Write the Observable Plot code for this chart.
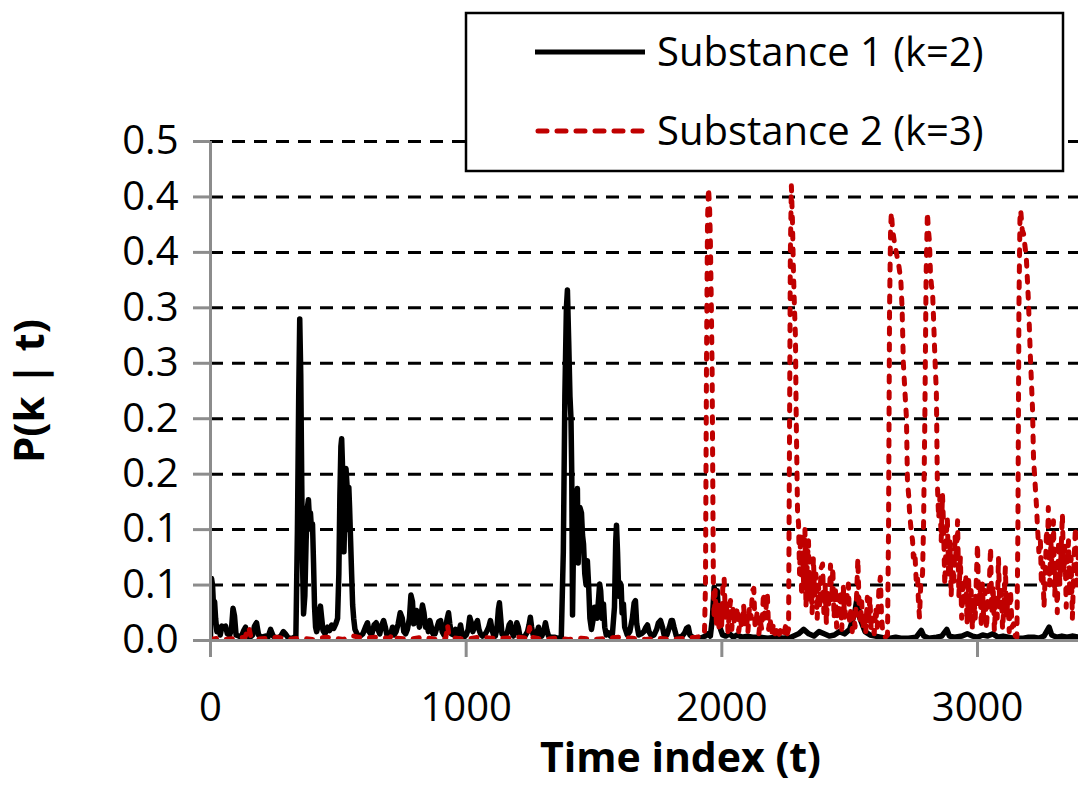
<!DOCTYPE html>
<html>
<head>
<meta charset="utf-8">
<script src="https://cdn.jsdelivr.net/npm/d3@7"></script>
<script src="https://cdn.jsdelivr.net/npm/@observablehq/plot@0.6"></script>
<style>
  html, body { margin: 0; padding: 0; background: #fff; }
  #chart { width: 1078px; height: 785px; }
</style>
</head>
<body>
<div id="chart"></div>
<script>
// ---------- data ----------
const seriesNames = ["Substance 1 (k=2)", "Substance 2 (k=3)"];
const xTicks = [0, 1000, 2000, 3000];
const xTickLabels = ["0", "1000", "2000", "3000"];
const yTicks = [0, 0.05, 0.1, 0.15, 0.2, 0.25, 0.3, 0.35, 0.4, 0.45];
const yTickLabels = ["0.0", "0.1", "0.1", "0.2", "0.2", "0.3", "0.3", "0.4", "0.4", "0.5"];
const xTitle = "Time index (t)";
const yTitle = "P(k | t)";

// Substance 1 (k=2): time index
const s1T = [0,4,8,12,16,20,25,31,38,45,52,59,66,75,82,88,94,100,110,120,130,137,144,155,165,172,180,188,200,215,225,235,245,260,275,285,293,305,322,334,
340,345,349,353,357,360,364,369,374,379,383,387,391,395,399,403,407,411,415,420,425,430,435,440,448,458,466,474,482,490,497,
502,506,510,513,516,519,522,526,530,534,538,541,544,548,552,556,560,
565,575,585,596,606,614,620,630,640,648,655,662,670,677,684,690,698,705,712,718,726,734,742,750,756,763,770,778,784,790,795,800,806,811,817,823,829,835,841,847,852,858,864,870,878,886,893,900,906,913,920,926,931,936,942,950,958,966,972,978,984,992,1000,1008,1014,1020,1026,1032,1038,1044,1050,1056,1064,1072,1080,1088,1095,1101,1107,1114,1120,1126,1130,1135,1140,1148,1156,1162,1168,1173,1178,1185,1192,1198,1204,1210,1220,1230,1240,1246,1251,1256,1262,1270,1278,1283,1288,1296,1303,1310,1316,1322,1332,1345,1360,1372,
1380,1386,1392,1396,1401,1406,1410,1413,1416,1420,1424,1428,1432,1435,1438,1441,1445,1451,1455,1459,1464,1469,1474,1479,1484,1490,1496,1502,1506,1512,1518,1522,1526,1532,1537,1542,1548,1556,1564,1572,1580,1585,1588,1592,1597,1602,1606,1610,1615,1620,1630,1640,1650,1657,1662,1667,1675,1685,1695,1703,1709,1715,1725,1735,1745,1752,1760,1768,1775,1785,1795,1802,1807,1813,1822,1832,1845,1855,1862,1869,1875,1885,1900,1915,1925,1935,
1945,1955,1963,1970,1976,1982,1988,1995,2003,2015,2030,2045,2060,2080,2100,2120,2150,2180,2210,2240,2270,2300,2320,2340,2360,2380,2400,2420,2440,2460,2480,2500,2520,2530,2540,2560,2580,2600,2620,2640,2660,2680,2700,2730,2760,2780,2790,2810,2840,2860,2880,2890,2910,2940,2960,2980,3000,3020,3040,3060,3080,3100,3120,3140,3160,3180,3200,3220,3240,3260,3280,3290,3310,3330,3350,3370,3395];
// Substance 1 (k=2): probability
const s1P = [0.004,0.056,0.05,0.03,0.035,0.02,0.008,0.012,0.005,0.013,0.012,0.013,0.006,0.005,0.01,0.029,0.022,0.005,0.004,0.003,0.009,0.012,0.004,0.003,0.005,0.013,0.016,0.005,0.003,0.004,0.003,0.01,0.004,0.002,0.004,0.008,0.006,0.002,0.002,0.004,
0.10,0.22,0.29,0.24,0.14,0.07,0.024,0.04,0.09,0.12,0.127,0.11,0.115,0.1,0.105,0.07,0.03,0.012,0.008,0.012,0.025,0.031,0.02,0.009,0.006,0.012,0.009,0.014,0.011,0.015,0.02,
0.06,0.13,0.175,0.182,0.16,0.10,0.08,0.12,0.155,0.14,0.1,0.138,0.12,0.09,0.06,0.032,0.02,
0.01,0.005,0.004,0.006,0.012,0.016,0.008,0.005,0.014,0.016,0.01,0.006,0.014,0.018,0.012,0.005,0.004,0.006,0.012,0.005,0.008,0.015,0.025,0.02,0.008,0.006,0.01,0.02,0.041,0.035,0.015,0.02,0.027,0.022,0.012,0.022,0.032,0.025,0.012,0.015,0.008,0.018,0.012,0.006,0.006,0.012,0.017,0.018,0.008,0.005,0.012,0.02,0.025,0.015,0.006,0.005,0.01,0.005,0.008,0.014,0.006,0.003,0.005,0.01,0.021,0.016,0.008,0.012,0.015,0.018,0.01,0.006,0.004,0.005,0.008,0.012,0.018,0.01,0.005,0.004,0.01,0.028,0.034,0.02,0.006,0.004,0.005,0.008,0.014,0.016,0.008,0.004,0.008,0.016,0.012,0.004,0.003,0.004,0.008,0.014,0.021,0.012,0.005,0.004,0.008,0.012,0.006,0.004,0.008,0.016,0.009,0.004,0.003,0.003,0.002,0.003,
0.08,0.22,0.30,0.316,0.27,0.22,0.2,0.15,0.023,0.09,0.124,0.11,0.13,0.137,0.07,0.1,0.12,0.115,0.095,0.087,0.06,0.05,0.072,0.05,0.02,0.01,0.018,0.03,0.03,0.02,0.038,0.051,0.045,0.02,0.033,0.012,0.005,0.007,0.004,0.006,0.03,0.09,0.104,0.08,0.04,0.052,0.05,0.025,0.033,0.012,0.005,0.008,0.02,0.034,0.036,0.015,0.005,0.006,0.008,0.012,0.014,0.008,0.004,0.005,0.01,0.016,0.018,0.012,0.004,0.005,0.012,0.018,0.018,0.012,0.004,0.003,0.004,0.007,0.011,0.012,0.005,0.003,0.002,0.002,0.003,0.004,
0.006,0.004,0.02,0.048,0.035,0.045,0.02,0.01,0.005,0.004,0.006,0.003,0.005,0.003,0.004,0.003,0.003,0.002,0.003,0.002,0.003,0.006,0.01,0.006,0.004,0.008,0.006,0.004,0.005,0.008,0.006,0.01,0.025,0.04,0.02,0.008,0.005,0.004,0.003,0.002,0.002,0.003,0.002,0.002,0.003,0.009,0.004,0.002,0.003,0.004,0.01,0.004,0.003,0.004,0.006,0.004,0.003,0.005,0.004,0.006,0.003,0.004,0.003,0.002,0.002,0.002,0.003,0.003,0.002,0.004,0.012,0.005,0.003,0.004,0.003,0.004,0.003];

// Substance 2 (k=3): time index
const s2T = [0,30,60,100,135,150,157,175,220,260,300,350,400,450,520,560,600,650,700,714,730,780,830,880,920,927,933,960,1000,1050,1100,1150,1200,1240,1248,1254,1300,1350,1400,1450,1500,1550,1600,1650,1700,1750,1800,1850,1900,1925,
1932,1936,1940,1944,1948,1952,1955,1959,1962,1965,1967,1970,
1974,1979,1984,1989,1994,1999,2004,2009,2014,2019,2024,2029,2034,2039,2044,2049,2055,2061,2066,2072,2078,2085,2090,2096,2102,2108,2114,2120,2125,2130,2135,2139,2145,2150,2156,2163,2168,2173,2178,2183,2189,2195,2202,2208,2215,2222,2229,2236,2243,2250,2256,
2261,2264,2268,2272,2276,2280,2284,2288,2290,2292,2296,
2300,2304,2308,2312,2316,2320,2325,2329,2334,2339,2343,2348,2353,2358,2363,2368,2373,2378,2383,2388,2394,2399,2404,2409,2414,2419,2425,2430,2434,2439,2444,2449,2454,2459,2464,2469,2475,2480,2486,2491,2495,2500,2505,2510,2516,2521,2527,2532,2537,2542,2547,2552,2558,2563,2569,2574,2579,2584,2590,2596,2602,2608,2614,2620,2625,2630,2640,
2648,2652,2656,2660,2663,2668,2675,2683,2691,2700,2705,2710,2716,2722,2726,2731,2734,2740,2746,2749,2755,2760,2765,2769,2773,2778,2785,2789,
2794,2799,2804,2808,2812,2816,2820,2824,2828,2832,2836,2839,2843,2848,2853,2858,2863,2867,
2872,2877,2882,2887,2892,2897,2902,2907,2912,2917,2922,2927,2933,2938,2943,2948,2954,2959,2965,2970,2975,2980,2986,2991,2996,3000,3005,3010,3015,3019,3024,3030,3035,3040,3046,3051,3056,3061,3066,3072,3077,3082,3087,3093,3098,3104,3109,3114,3119,3124,3129,3135,3141,3148,3154,
3158,3162,3166,3169,3175,3180,3186,3191,3199,3207,3215,3219,3223,3227,3231,3234,3240,3246,
3250,3255,3260,3265,3270,3274,3277,3282,3287,3292,3297,3302,3307,3312,3317,3322,3327,3332,3337,3342,3347,3352,3356,3361,3366,3371,3376,3380,3383,3388,3395];
// Substance 2 (k=3): probability
const s2P = [0.001,0.002,0.001,0.002,0.003,0.012,0.004,0.001,0.002,0.003,0.001,0.002,0.001,0.003,0.001,0.004,0.002,0.003,0.002,0.006,0.002,0.001,0.003,0.001,0.002,0.014,0.004,0.002,0.001,0.003,0.002,0.002,0.003,0.002,0.012,0.003,0.001,0.002,0.001,0.002,0.001,0.002,0.003,0.002,0.001,0.002,0.001,0.002,0.003,0.004,
0.006,0.05,0.25,0.38,0.408,0.39,0.363,0.3,0.243,0.124,0.05,0.02,
0.045,0.015,0.035,0.01,0.028,0.012,0.05,0.056,0.02,0.035,0.008,0.025,0.036,0.01,0.03,0.015,0.022,0.03,0.008,0.02,0.012,0.032,0.015,0.025,0.008,0.03,0.02,0.045,0.047,0.012,0.02,0.027,0.006,0.018,0.01,0.043,0.02,0.03,0.042,0.01,0.02,0.005,0.015,0.006,0.01,0.004,0.009,0.003,0.006,0.014,0.006,
0.01,0.15,0.35,0.41,0.38,0.334,0.3,0.273,0.22,0.183,0.117,
0.105,0.06,0.096,0.04,0.08,0.05,0.1,0.03,0.07,0.09,0.035,0.06,0.025,0.075,0.04,0.06,0.02,0.05,0.03,0.065,0.069,0.025,0.05,0.015,0.045,0.03,0.068,0.035,0.066,0.02,0.048,0.012,0.04,0.025,0.045,0.01,0.05,0.02,0.035,0.042,0.051,0.015,0.03,0.008,0.025,0.012,0.04,0.074,0.03,0.015,0.035,0.01,0.025,0.008,0.039,0.015,0.039,0.01,0.02,0.006,0.03,0.012,0.045,0.057,0.02,0.006,0.003,
0.005,0.1,0.3,0.37,0.386,0.37,0.359,0.349,0.34,0.325,0.3,0.25,0.225,0.201,0.144,0.13,0.117,0.1,0.09,0.075,0.08,0.055,0.06,0.035,0.021,0.05,0.06,0.105,
0.2,0.33,0.386,0.37,0.36,0.331,0.32,0.315,0.291,0.264,0.24,0.225,0.141,0.11,0.13,0.09,0.132,0.105,
0.05,0.09,0.111,0.06,0.09,0.04,0.08,0.05,0.095,0.07,0.108,0.04,0.075,0.02,0.05,0.03,0.06,0.015,0.057,0.02,0.045,0.01,0.04,0.02,0.06,0.087,0.03,0.05,0.012,0.051,0.02,0.045,0.01,0.035,0.05,0.084,0.025,0.05,0.008,0.04,0.02,0.075,0.03,0.045,0.01,0.035,0.066,0.02,0.04,0.008,0.045,0.012,0.015,0.004,0.003,
0.1,0.3,0.38,0.388,0.37,0.367,0.355,0.345,0.307,0.255,0.21,0.165,0.15,0.135,0.12,0.105,0.08,0.09,
0.05,0.07,0.03,0.06,0.1,0.085,0.12,0.05,0.09,0.06,0.108,0.04,0.07,0.025,0.09,0.05,0.08,0.114,0.06,0.085,0.03,0.07,0.09,0.04,0.075,0.02,0.06,0.085,0.102,0.05,0.08];

// ---------- build tables ----------
const s1 = s1T.map((t, i) => ({t, p: s1P[i]}));
const s2 = s2T.map((t, i) => ({t, p: s2P[i]}));

const FONT = "'Open Sans', 'Noto Sans', sans-serif";
const GREY = "#8c8c8c";
const RED = "#c00000";
const RED_DASH = "6,10";

const chart = Plot.plot({
  width: 1078,
  height: 785,
  marginLeft: 210,
  marginRight: 0,
  marginTop: 141,
  marginBottom: 145,
  style: {fontFamily: FONT, fontSize: "40px", color: "black", background: "white", overflow: "visible"},
  x: {domain: [0, 3395]},
  y: {domain: [0, 0.45]},
  marks: [
    Plot.ruleY(yTicks.slice(1), {stroke: "black", strokeWidth: 3, strokeDasharray: "13,9"}),
    Plot.line(s1, {x: "t", y: "p", stroke: "black", strokeWidth: 5.5, clip: true, strokeLinejoin: "round"}),
    Plot.line(s2, {x: "t", y: "p", stroke: RED, strokeWidth: 5, strokeDasharray: RED_DASH, strokeLinecap: "round", strokeLinejoin: "round", clip: true}),
    Plot.ruleY([0], {stroke: GREY, strokeWidth: 3}),
    Plot.ruleX([0], {y1: 0, y2: 0.45, stroke: GREY, strokeWidth: 3}),
    Plot.axisY({ticks: yTicks, tickFormat: (d, i) => yTickLabels[i], tickSize: 17, tickPadding: 15, stroke: GREY, strokeWidth: 3, fill: "black", fontSize: 40, label: null}),
    Plot.axisX({ticks: xTicks, tickFormat: (d, i) => xTickLabels[i], tickSize: 17, tickPadding: 35, stroke: GREY, strokeWidth: 3, fill: "black", fontSize: 40, label: null}),
    Plot.text([xTitle], {frameAnchor: "bottom", lineAnchor: "middle", textAnchor: "middle", dy: 118, dx: 36, fontWeight: "bold", fontSize: 41, fill: "black"}),
    Plot.text([yTitle], {frameAnchor: "left", textAnchor: "middle", lineAnchor: "middle", dx: -180, rotate: -90, fontWeight: "bold", fontSize: 42, fill: "black"})
  ]
});

document.getElementById("chart").appendChild(chart);

// ---------- legend (drawn inside the svg) ----------
const svg = d3.select(chart);
const lg = svg.append("g").attr("font-family", FONT).attr("font-size", 40).attr("text-anchor", "start");
lg.append("rect").attr("x", 466).attr("y", 13).attr("width", 597).attr("height", 158)
  .attr("fill", "white").attr("stroke", "black").attr("stroke-width", 2.5);
const legendItems = [
  {name: seriesNames[0], color: "black", dash: null, y: 52},
  {name: seriesNames[1], color: RED, dash: "9,10", y: 131}
];
legendItems.forEach(it => {
  const l = lg.append("line").attr("x1", it.dash ? 538 : 535).attr("x2", it.dash ? 643 : 645).attr("y1", it.y).attr("y2", it.y)
    .attr("stroke", it.color).attr("stroke-width", 5).attr("stroke-linecap", it.dash ? "round" : "butt");
  if (it.dash) l.attr("stroke-dasharray", it.dash);
  lg.append("text").attr("x", 657).attr("y", it.y).attr("dy", "0.35em").attr("text-anchor", "start").attr("fill", "black").text(it.name);
});
</script>
</body>
</html>
